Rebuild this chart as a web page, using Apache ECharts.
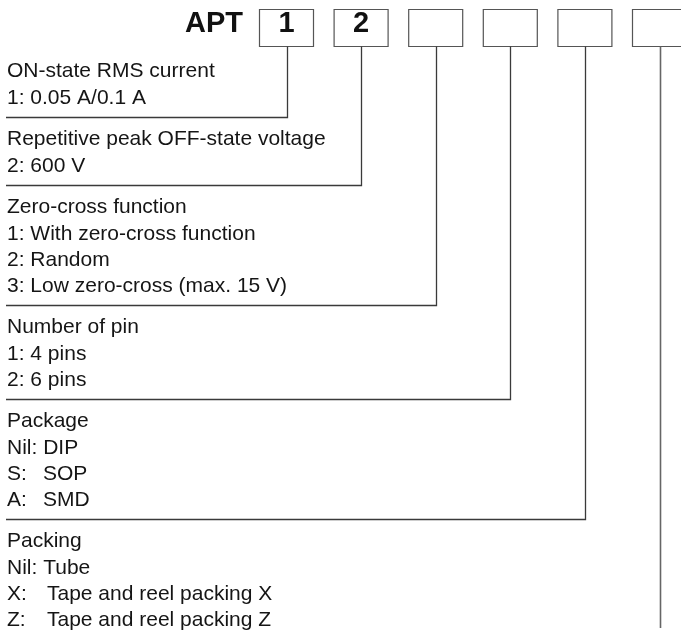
<!DOCTYPE html>
<html>
<head>
<meta charset="utf-8">
<script src="https://cdn.jsdelivr.net/npm/echarts@6/dist/echarts.min.js"></script>
<style>html,body{margin:0;padding:0;background:#fff}#c{width:681px;height:630px}</style>
</head>
<body>
<div id="c"></div>
<script>
// ---- content ----
const prefix = 'APT';
const codeBoxes = ['1', '2', '', '', '', ''];
const blockTitles = [
  'ON-state RMS current',
  'Repetitive peak OFF-state voltage',
  'Zero-cross function',
  'Number of pin',
  'Package',
  'Packing'
];
// [code, description]; an empty code means the line is written as one piece
const blockItems = [
  [['', '1: 0.05 A/0.1 A']],
  [['', '2: 600 V']],
  [['', '1: With zero-cross function'], ['', '2: Random'], ['', '3: Low zero-cross (max. 15 V)']],
  [['', '1: 4 pins'], ['', '2: 6 pins']],
  [['', 'Nil: DIP'], ['S:', 'SOP'], ['A:', 'SMD']],
  [['', 'Nil: Tube'], ['X:', 'Tape and reel packing X'], ['Z:', 'Tape and reel packing Z']]
];

// ---- layout ----
const FONT = '"Liberation Sans", Arial, Helvetica, sans-serif';
const FS = 21, LH = 26.2;
const TEXT_X = 7;
const DESC_X = [43, 43, 43, 43, 43, 47];
const BOX_L0 = 259.5, BOX_STEP = 74.6, BOX_W = 54, BOX_T = 9.5, BOX_B = 46.5;
const LINE_COLOR = '#3a3a3a';
const els = [];

function txt(s, x, y) {
  return { type: 'text', style: { text: s, x: x, y: y, align: 'left', verticalAlign: 'middle',
    font: FS + 'px ' + FONT, fill: '#151515' } };
}

els.push({
  type: 'text',
  style: { text: prefix, x: 243, y: 23.5, align: 'right', verticalAlign: 'middle',
    font: 'bold 29px ' + FONT, fill: '#111' }
});

codeBoxes.forEach((c, i) => {
  const l = BOX_L0 + i * BOX_STEP;
  els.push({ type: 'rect', shape: { x: l, y: BOX_T, width: BOX_W, height: BOX_B - BOX_T },
    style: { fill: 'none', stroke: '#555', lineWidth: 1.2 } });
  if (c) els.push({ type: 'text', style: { text: c, x: l + BOX_W / 2, y: 23.5,
    align: 'center', verticalAlign: 'middle', font: 'bold 29px ' + FONT, fill: '#111' } });
});

let baseline = 79;
blockTitles.forEach((t, i) => {
  const lines = [['', t]].concat(blockItems[i]);
  lines.forEach((pair, k) => {
    const y = baseline + k * LH - 7.3;
    if (pair[0]) {
      els.push(txt(pair[0], TEXT_X, y));
      els.push(txt(pair[1], DESC_X[i], y));
    } else {
      els.push(txt(pair[1], TEXT_X, y));
    }
  });
  const cx = Math.round(BOX_L0 + i * BOX_STEP + BOX_W / 2) + 0.5;
  const last = i === blockTitles.length - 1;
  const ly = Math.round(baseline + (lines.length - 1) * LH + 11.5) + 0.5;
  if (!last) {
    els.push({ type: 'polyline', shape: { points: [[cx, BOX_B], [cx, ly], [TEXT_X - 1, ly]] },
      style: { stroke: LINE_COLOR, lineWidth: 1.3, fill: 'none' } });
    baseline = ly + 29.5;
  } else {
    els.push({ type: 'polyline', shape: { points: [[cx, BOX_B], [cx, 628]] },
      style: { stroke: '#666', lineWidth: 1.6, fill: 'none' } });
  }
});

const chart = echarts.init(document.getElementById('c'));
chart.setOption({ backgroundColor: '#fff', animation: false, graphic: { elements: els } });
</script>
</body>
</html>
